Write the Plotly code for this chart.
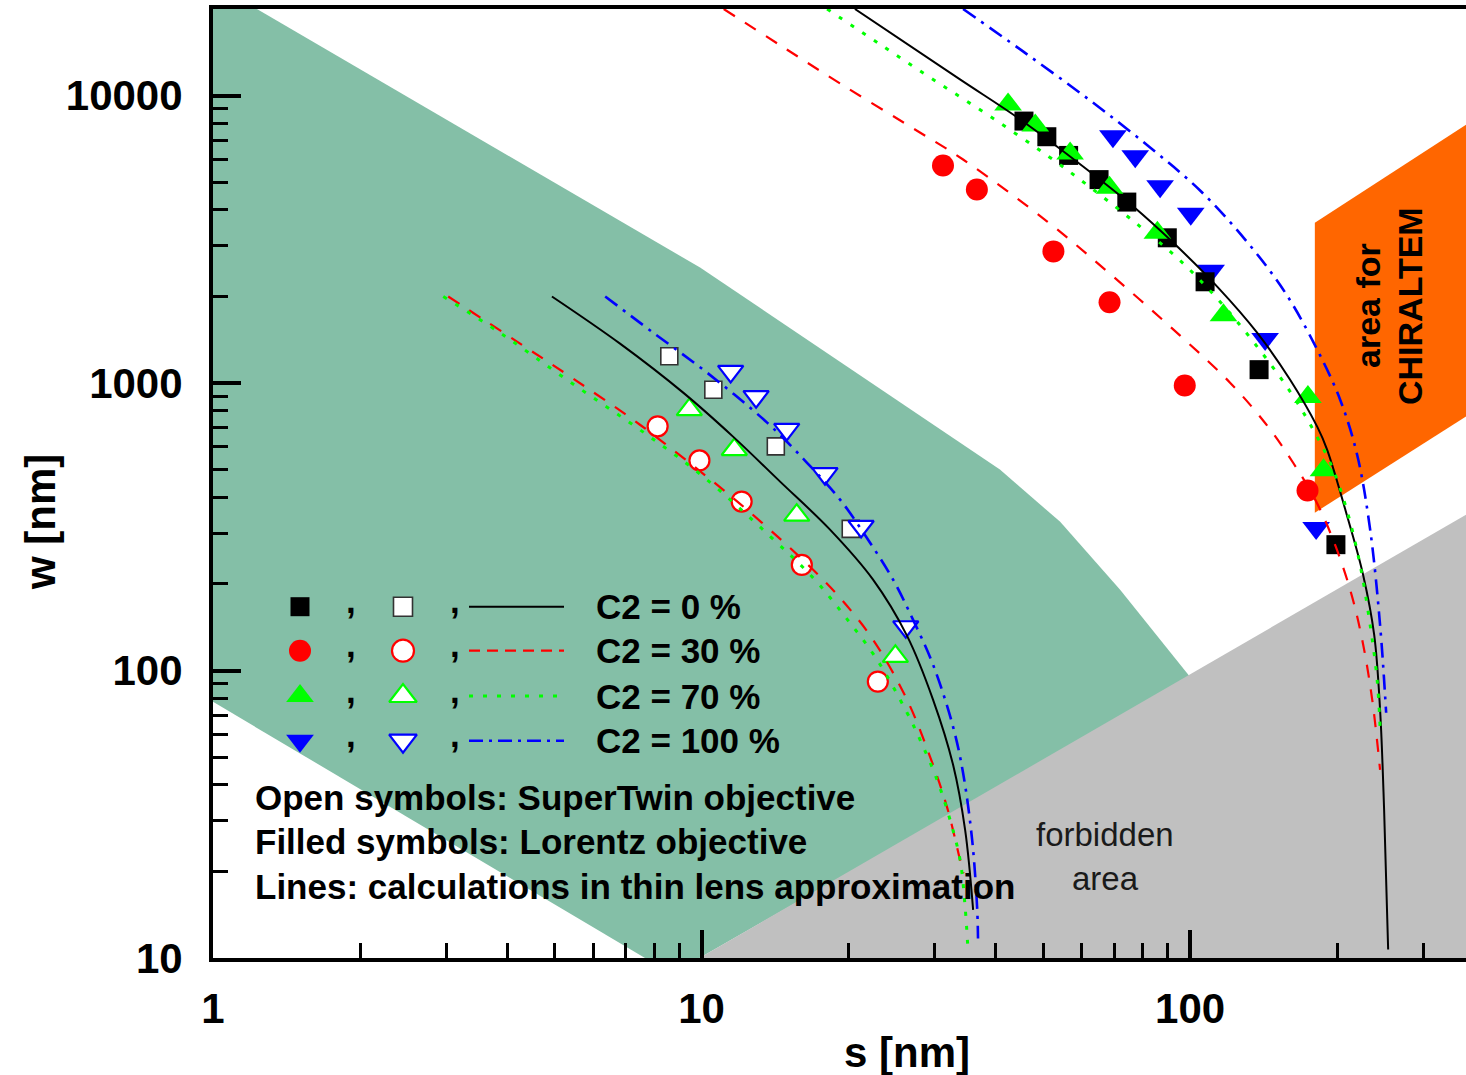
import math
import plotly.graph_objects as go

# ---------------- axes ----------------
S_MIN, S_MAX = 1, 367          # s [nm]
W_MIN, W_MAX = 10, 20000       # w [nm]
X_MAJOR = [1, 10, 100]
X_MAJOR_TEXT = ["1", "10", "100"]
X_MINOR = [2, 3, 4, 5, 6, 7, 8, 9, 20, 30, 40, 50, 60, 70, 80, 90, 200, 300]
Y_MAJOR = [10, 100, 1000, 10000]
Y_MAJOR_TEXT = ["10", "100", "1000", "10000"]
Y_MINOR = [20, 30, 40, 50, 60, 70, 80, 90,
           200, 300, 400, 500, 600, 700, 800, 900,
           2000, 3000, 4000, 5000, 6000, 7000, 8000, 9000]

# ---------------- shaded regions (vertices in s, w) ----------------
GREEN_S = [1, 1.23, 9.93, 40.8, 54.2, 71.9, 100, 9.9, 7.66, 1]
GREEN_W = [20000, 20000, 2522, 500, 329, 191, 95, 10, 10, 77.8]
GRAY_S = [9.9, 400, 400]
GRAY_W = [10, 379, 10]
ORANGE_S = [180, 180, 400, 400]
ORANGE_W = [354, 3610, 8710, 839]

# ---------------- measurements: Lorentz objective (filled) ----------------
LZ0_S = [45.7, 50.9, 56.4, 65.1, 74.2, 89.8, 107.3, 138.4, 198.8]
LZ0_W = [8150, 7190, 6190, 5100, 4260, 3200, 2250, 1113, 274]
LZ30_S = [31.2, 36.6, 52.5, 68.4, 97.5, 173.9]
LZ30_W = [5710, 4710, 2870, 1910, 980, 423]
LZ70_S = [42.4, 48.2, 56.8, 68.4, 85.7, 117.0, 174.2, 187.5]
LZ70_W = [9310, 7870, 6290, 4780, 3330, 1720, 894, 497]
LZ100_S = [69.5, 77.2, 86.8, 100.3, 110.4, 142.4, 181.1]
LZ100_W = [7220, 6150, 4840, 3880, 2460, 1424, 313]

# ---------------- measurements: SuperTwin objective (open) ----------------
ST0_S = [8.59, 10.57, 14.19, 20.2]
ST0_W = [1239, 948, 602, 311]
ST30_S = [8.13, 9.90, 12.08, 16.04, 22.95]
ST30_W = [707, 538, 387, 233, 91.5]
ST70_S = [9.44, 11.67, 15.66, 24.93]
ST70_W = [808, 587, 347, 112]
ST100_S = [11.47, 12.93, 14.94, 17.89, 21.21, 26.18]
ST100_W = [1098, 897, 690, 484, 317, 142]

# ---------------- thin lens calculations, SuperTwin ----------------
CST0_S = [4.94, 6.81, 9.17, 11.6, 14.48, 18.32, 22.44, 26.34, 29.78, 32.72, 34.63, 35.96]
CST0_W = [2000, 1371, 926, 651, 454, 309, 207, 132, 79.1, 47.0, 27.9, 14.7]
CST30_S = [3.03, 4.19, 5.46, 7.48, 10.26, 11.99, 14.48, 16.92, 19.21,
           22.44, 26.34, 29.36, 31.8, 33.82, 34.36]
CST30_W = [2000, 1394, 1036, 716, 472, 380, 287, 224, 179,
           128, 79.1, 50.1, 33.5, 21.9, 19.7]
CST70_S = [2.96, 3.87, 5.30, 7.72, 10.09, 13.81, 16.92, 19.67, 22.87, 26.34,
           28.01, 30.35, 32.26, 33.82, 34.63, 35.13]
CST70_W = [2000, 1494, 1027, 662, 472, 293, 210, 154, 109, 71.3,
           57.4, 41.6, 30.2, 21.9, 15.05, 10.4]
CST100_S = [6.35, 7.96, 10.26, 13.62, 16.44, 19.21, 21.92, 24.66, 27.1, 29.78,
            32.72, 34.3, 35.8, 36.64, 36.8]
CST100_W = [2000, 1497, 1087, 728, 528, 393, 285, 207, 150, 104.7,
            63.7, 44.0, 25.7, 15.05, 11.7]

# ---------------- thin lens calculations, Lorentz ----------------
CLZ0_S = [20.6, 33.8, 44.9, 61.5, 76.5, 92.3, 113.6, 137.1, 160.2, 182.0,
          190.7, 210.6, 226.0, 238.1, 244.8, 249.5, 254.3]
CLZ0_W = [20000, 11380, 8256, 5531, 4112, 3081, 2165, 1497, 1027, 705,
          587, 335, 215, 133, 73.0, 32.7, 10.7]
CLZ30_S = [11.1, 14.5, 19.2, 26.3, 34.3, 51.0, 69.6, 95.4, 120.7, 143.8,
           162.5, 180.3, 196.2, 212.6, 225.0, 235.9, 244.8]
CLZ30_W = [20000, 14940, 11020, 7930, 5990, 3646, 2346, 1462, 1003, 711,
           528, 393, 285, 191, 128, 79.1, 45.1]
CLZ70_S = [18.07, 23.2, 29.78, 38.96, 51.0, 63.3, 79.0, 95.4, 113.6, 134.6,
           160.2, 178.6, 196.2, 210.6, 222.8, 233.6, 241.4, 244.8]
CLZ70_W = [20000, 15060, 11380, 8458, 6187, 4712, 3502, 2668, 1967, 1394,
           934, 688, 500, 348, 233, 144, 92.8, 63.7]
CLZ100_S = [34.3, 45.5, 62.4, 82.8, 104.8, 129.6, 156.5, 182.0, 202.8,
            219.7, 233.6, 244.8, 251.9]
CLZ100_W = [20000, 14240, 9616, 6597, 4675, 3155, 2064, 1307, 875,
            563, 309, 144, 71.3]

# ---------------- text ----------------
C2_LABELS = ["C2 = 0 %", "C2 = 30 %", "C2 = 70 %", "C2 = 100 %"]
NOTES = ["Open symbols: SuperTwin objective",
         "Filled symbols: Lorentz objective",
         "Lines: calculations in thin lens approximation"]

# ---------------- styling ----------------
FONT = "Liberation Sans, Arial, Helvetica, sans-serif"
GREEN_FILL = "#84BFA7"
GRAY_FILL = "#C0C0C0"
ORANGE_FILL = "#FF6600"
COLORS = ["#000000", "#FF0000", "#00FF00", "#0000FF"]
SYMBOLS = ["square", "circle", "triangle-up", "triangle-down"]
FILLED_SIZE = [19, 22, 24, 24]
OPEN_SIZE = [17, 20, 22, 22]
OPEN_LINE = ["#333333", "#FF0000", "#00FF00", "#0000FF"]
LINE_W = [2, 2.2, 3, 2.6]
DASHES = ["solid", "13px,12px", "4px,10px", "15px,7px,3px,7px"]
LEGEND_DASHES = ["solid", "11px,7px", "4px,10px", "14px,6px,3px,6px"]

FIG_W, FIG_H = 1466, 1075
PLOT_L, PLOT_R, PLOT_T, PLOT_B = 213, 1466, 9, 958


def fx(px):
    return (px - PLOT_L) / (PLOT_R - PLOT_L)


def fy(py):
    return (PLOT_B - py) / (PLOT_B - PLOT_T)


fig = go.Figure()

# shaded regions
for xs, ys, col in [(GREEN_S, GREEN_W, GREEN_FILL),
                    (GRAY_S, GRAY_W, GRAY_FILL),
                    (ORANGE_S, ORANGE_W, ORANGE_FILL)]:
    fig.add_trace(go.Scatter(x=xs, y=ys, mode="lines", fill="toself",
                             fillcolor=col, line=dict(width=0, color=col),
                             hoverinfo="skip", showlegend=False))

# open symbols (SuperTwin)
open_sets = [(ST0_S, ST0_W), (ST30_S, ST30_W), (ST70_S, ST70_W), (ST100_S, ST100_W)]
for i in [0, 1, 2, 3]:
    xs, ys = open_sets[i]
    fig.add_trace(go.Scatter(
        x=xs, y=ys, mode="markers", showlegend=False,
        marker=dict(symbol=SYMBOLS[i], size=OPEN_SIZE[i], color="white",
                    line=dict(color=OPEN_LINE[i], width=2.2 if i else 1.6))))

# filled symbols (Lorentz)
filled_sets = [(LZ0_S, LZ0_W), (LZ30_S, LZ30_W), (LZ70_S, LZ70_W), (LZ100_S, LZ100_W)]
for i in [1, 3, 0, 2]:
    xs, ys = filled_sets[i]
    fig.add_trace(go.Scatter(
        x=xs, y=ys, mode="markers", showlegend=False,
        marker=dict(symbol=SYMBOLS[i], size=FILLED_SIZE[i], color=COLORS[i],
                    line=dict(width=0))))

# thin lens curves
curves = [((CST0_S, CST0_W), (CLZ0_S, CLZ0_W)),
          ((CST30_S, CST30_W), (CLZ30_S, CLZ30_W)),
          ((CST70_S, CST70_W), (CLZ70_S, CLZ70_W)),
          ((CST100_S, CST100_W), (CLZ100_S, CLZ100_W))]
for i, pair in enumerate(curves):
    for xs, ys in pair:
        fig.add_trace(go.Scatter(
            x=xs, y=ys, mode="lines", showlegend=False, hoverinfo="skip",
            line=dict(color=COLORS[i], width=LINE_W[i], dash=DASHES[i],
                      shape="spline", smoothing=1.0)))

# hand-made key, drawn on an overlay axis spanning the plot area
ROW_Y = [606.7, 650.7, 696, 740.7]
for i in range(4):
    yy = fy(ROW_Y[i])
    fig.add_trace(go.Scatter(
        x=[fx(300)], y=[yy], xaxis="x2", yaxis="y2", mode="markers",
        showlegend=False, hoverinfo="skip",
        marker=dict(symbol=SYMBOLS[i], size=FILLED_SIZE[i], color=COLORS[i],
                    line=dict(width=0))))
    fig.add_trace(go.Scatter(
        x=[fx(403)], y=[yy], xaxis="x2", yaxis="y2", mode="markers",
        showlegend=False, hoverinfo="skip",
        marker=dict(symbol=SYMBOLS[i], size=OPEN_SIZE[i] + 2, color="white",
                    line=dict(color=OPEN_LINE[i], width=2.2 if i else 1.6))))
    fig.add_trace(go.Scatter(
        x=[fx(469), fx(564)], y=[yy, yy], xaxis="x2", yaxis="y2", mode="lines",
        showlegend=False, hoverinfo="skip",
        line=dict(color=COLORS[i], width=LINE_W[i], dash=LEGEND_DASHES[i])))

bold = dict(family=FONT, size=35, color="black", weight="bold")
ann = []
for i in range(4):
    yy = fy(ROW_Y[i])
    ann.append(dict(x=fx(594), y=yy, xref="paper", yref="paper", text=C2_LABELS[i],
                    showarrow=False, xanchor="left", yanchor="middle", font=bold))
    for cx in (351, 455):
        ann.append(dict(x=fx(cx), y=fy(ROW_Y[i] - 6), xref="paper", yref="paper",
                        text=",", showarrow=False, xanchor="center",
                        yanchor="middle", font=bold))
for txt, py in zip(NOTES, [797, 841, 886]):
    ann.append(dict(x=fx(253), y=fy(py), xref="paper", yref="paper", text=txt,
                    showarrow=False, xanchor="left", yanchor="middle", font=bold))
for txt, py in [("forbidden", 834), ("area", 878)]:
    ann.append(dict(x=fx(1105), y=fy(py), xref="paper", yref="paper", text=txt,
                    showarrow=False, xanchor="center", yanchor="middle",
                    font=dict(family=FONT, size=33, color="#1a1a1a")))
for txt, px in [("area for", 1368), ("CHIRALTEM", 1410)]:
    ann.append(dict(x=fx(px), y=fy(306), xref="paper", yref="paper", text=txt,
                    textangle=-90, showarrow=False, xanchor="center",
                    yanchor="middle", font=dict(family=FONT, size=34,
                                                color="black", weight="bold")))
axis_font = dict(family=FONT, size=42, color="black", weight="bold")
ann.append(dict(x=fx(40), y=fy(522), xref="paper", yref="paper", text="w [nm]",
                textangle=-90, showarrow=False, xanchor="center",
                yanchor="middle", font=axis_font))
ann.append(dict(x=fx(907), y=fy(1052), xref="paper", yref="paper", text="s [nm]",
                showarrow=False, xanchor="center", yanchor="middle",
                font=axis_font))

common_axis = dict(type="log", showgrid=False, zeroline=False, showline=True,
                   linecolor="black", linewidth=4, ticks="inside", ticklen=28,
                   tickwidth=4, tickcolor="black", tickmode="array",
                   tickfont=axis_font)

fig.update_layout(
    width=FIG_W, height=FIG_H,
    margin=dict(l=PLOT_L, r=FIG_W - PLOT_R, t=PLOT_T, b=FIG_H - PLOT_B),
    paper_bgcolor="white", plot_bgcolor="white",
    font=dict(family=FONT, color="black"),
    showlegend=False,
    xaxis=dict(common_axis, range=[math.log10(S_MIN), math.log10(S_MAX)],
               tickvals=X_MAJOR, ticktext=X_MAJOR_TEXT, mirror=True,
               ticklabelstandoff=11,
               minor=dict(ticks="inside", ticklen=15, tickwidth=3,
                          tickcolor="black", tickmode="array",
                          tickvals=X_MINOR, showgrid=False)),
    yaxis=dict(common_axis, range=[math.log10(W_MIN), math.log10(W_MAX)],
               tickvals=Y_MAJOR, ticktext=Y_MAJOR_TEXT,
               ticklabelstandoff=18,
               minor=dict(ticks="inside", ticklen=15, tickwidth=3,
                          tickcolor="black", tickmode="array",
                          tickvals=Y_MINOR, showgrid=False)),
    xaxis2=dict(overlaying="x", anchor="y2", range=[0, 1], visible=False,
                fixedrange=True),
    yaxis2=dict(overlaying="y", anchor="x2", range=[0, 1], visible=False,
                fixedrange=True),
    annotations=ann,
)

fig.write_html("out.html", config={"displayModeBar": False})
